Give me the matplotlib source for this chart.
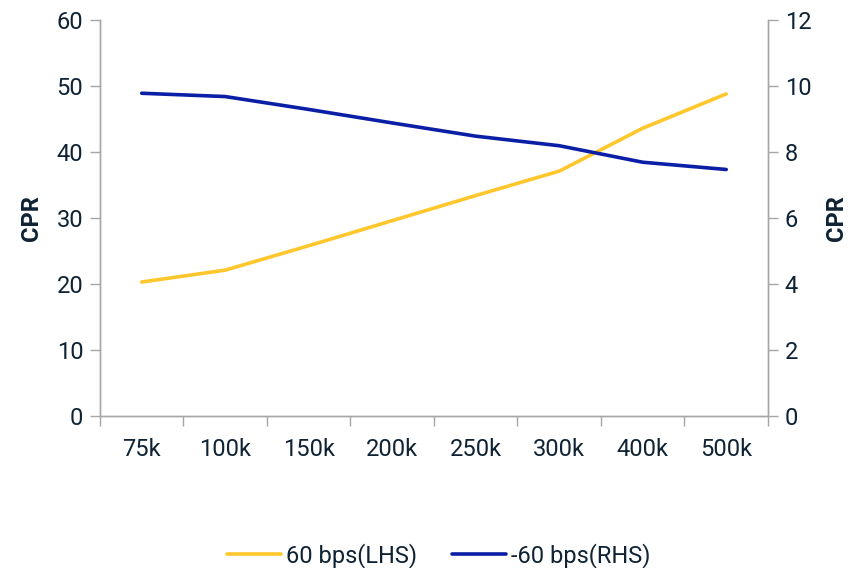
import matplotlib.pyplot as plt
from matplotlib.ticker import FixedLocator

# loan balance buckets and CPR per rate shift
buckets = ["75k", "100k", "150k", "200k", "250k", "300k", "400k", "500k"]
cpr_up60 = [20.3, 22.1, 25.8, 29.6, 33.4, 37.1, 43.6, 48.8]     # LHS
cpr_down60 = [9.78, 9.68, 9.29, 8.88, 8.48, 8.19, 7.69, 7.47]   # RHS

text_col = "#0f2335"
grid_col = "#a6a6a6"
yellow = "#ffc72c"
blue = "#0a1fa6"

plt.rcParams['font.family'] = ['Roboto', 'DejaVu Sans']

fig = plt.figure(figsize=(8.5, 5.68), dpi=100)
ax = fig.add_axes([0.1176, 0.2676, 0.7859, 0.6972])
ax2 = ax.twinx()

x = list(range(len(buckets)))
l1, = ax.plot(x, cpr_up60, color=yellow, lw=2.6, solid_capstyle='round')
l2, = ax2.plot(x, cpr_down60, color=blue, lw=2.6, solid_capstyle='round')

ax.set_xlim(-0.5, len(buckets) - 0.5)
ax.set_ylim(0, 60)
ax2.set_ylim(0, 12)
ax.set_yticks(range(0, 61, 10))
ax2.set_yticks(range(0, 13, 2))

# category labels centred, tick marks on the bucket boundaries
ax.set_xticks(x)
ax.set_xticklabels(buckets)
ax.xaxis.set_minor_locator(FixedLocator([i - 0.5 for i in range(len(buckets) + 1)]))
ax.tick_params(axis='x', which='major', length=0, pad=16)
ax.tick_params(axis='x', which='minor', length=7, width=1, color=grid_col)

for a in (ax, ax2):
    a.spines['top'].set_visible(False)
    for side in ('left', 'right', 'bottom'):
        a.spines[side].set_color(grid_col)
        a.spines[side].set_linewidth(1)
    a.tick_params(axis='y', length=7, width=1, color=grid_col, labelsize=17,
                  labelcolor=text_col, pad=5)
ax.tick_params(axis='x', labelsize=17, labelcolor=text_col)

ax.set_ylabel("CPR", fontsize=17, fontweight='bold', color=text_col, labelpad=10)
ax2.set_ylabel("CPR", fontsize=17, fontweight='bold', color=text_col, labelpad=10)

fig.legend([l1, l2], ["60 bps(LHS)", "-60 bps(RHS)"], loc='center',
           bbox_to_anchor=(0.516, 0.022), ncol=2, frameon=False, fontsize=17,
           labelcolor=text_col, handlelength=2.3, handletextpad=0.2,
           columnspacing=1.45)

fig.savefig("out.png", dpi=100)
